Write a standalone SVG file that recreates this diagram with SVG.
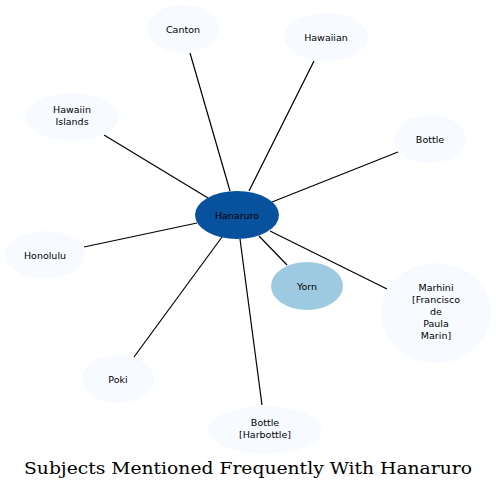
<svg xmlns="http://www.w3.org/2000/svg" width="496" height="490" viewBox="0 0 496 490">
<style>
.n{fill:#f7fbff;stroke:none}
.t{font-family:"DejaVu Sans",sans-serif;font-size:9.5px;fill:#000;text-anchor:middle}
.e line{stroke:#000;stroke-width:1.2}
</style>
<rect width="496" height="490" fill="#fff"/>
<g class="e" id="connectors">
<line x1="190" y1="53" x2="230" y2="191"/>
<line x1="314" y1="61" x2="249" y2="191"/>
<line x1="104" y1="135" x2="208" y2="198"/>
<line x1="398" y1="152" x2="272" y2="202"/>
<line x1="84" y1="247" x2="197" y2="223"/>
<line x1="387" y1="289" x2="270" y2="231"/>
<line x1="287" y1="265" x2="259" y2="236"/>
<line x1="134" y1="357" x2="222" y2="237"/>
<line x1="262" y1="405" x2="240" y2="239"/>
</g>
<g id="hanaruro"><ellipse cx="237" cy="215" rx="42" ry="24" fill="#08519c"/><text class="t" x="237" y="218.5">Hanaruro</text></g>
<g id="yorn"><ellipse cx="307" cy="286" rx="36" ry="24" fill="#9ecae1"/><text class="t" x="307" y="289.5">Yorn</text></g>
<g id="canton"><ellipse class="n" cx="183" cy="29" rx="36" ry="24"/><text class="t" x="183" y="32.5">Canton</text></g>
<g id="hawaiian"><ellipse class="n" cx="326" cy="37" rx="42" ry="24"/><text class="t" x="326" y="40.5">Hawaiian</text></g>
<g id="hawaiin-islands"><ellipse class="n" cx="72" cy="117" rx="47" ry="24"/><text class="t" x="72" y="113">Hawaiin</text><text class="t" x="72" y="125">Islands</text></g>
<g id="bottle"><ellipse class="n" cx="430" cy="139" rx="36" ry="24"/><text class="t" x="430" y="142.5">Bottle</text></g>
<g id="honolulu"><ellipse class="n" cx="45" cy="255" rx="40" ry="24"/><text class="t" x="45" y="258.5">Honolulu</text></g>
<g id="marhini"><ellipse class="n" cx="436" cy="313" rx="55" ry="50"/><text class="t" x="436" y="291">Marhini</text><text class="t" x="436" y="303">[Francisco</text><text class="t" x="436" y="315">de</text><text class="t" x="436" y="327">Paula</text><text class="t" x="436" y="339">Marin]</text></g>
<g id="poki"><ellipse class="n" cx="118" cy="379" rx="36" ry="24"/><text class="t" x="118" y="382.5">Poki</text></g>
<g id="bottle-harbottle"><ellipse class="n" cx="265" cy="430" rx="57" ry="24"/><text class="t" x="265" y="426">Bottle</text><text class="t" x="265" y="438">[Harbottle]</text></g>
<text x="248" y="474" font-family="DejaVu Serif,serif" font-size="17" text-anchor="middle" textLength="448" lengthAdjust="spacingAndGlyphs">Subjects Mentioned Frequently With Hanaruro</text>
</svg>
